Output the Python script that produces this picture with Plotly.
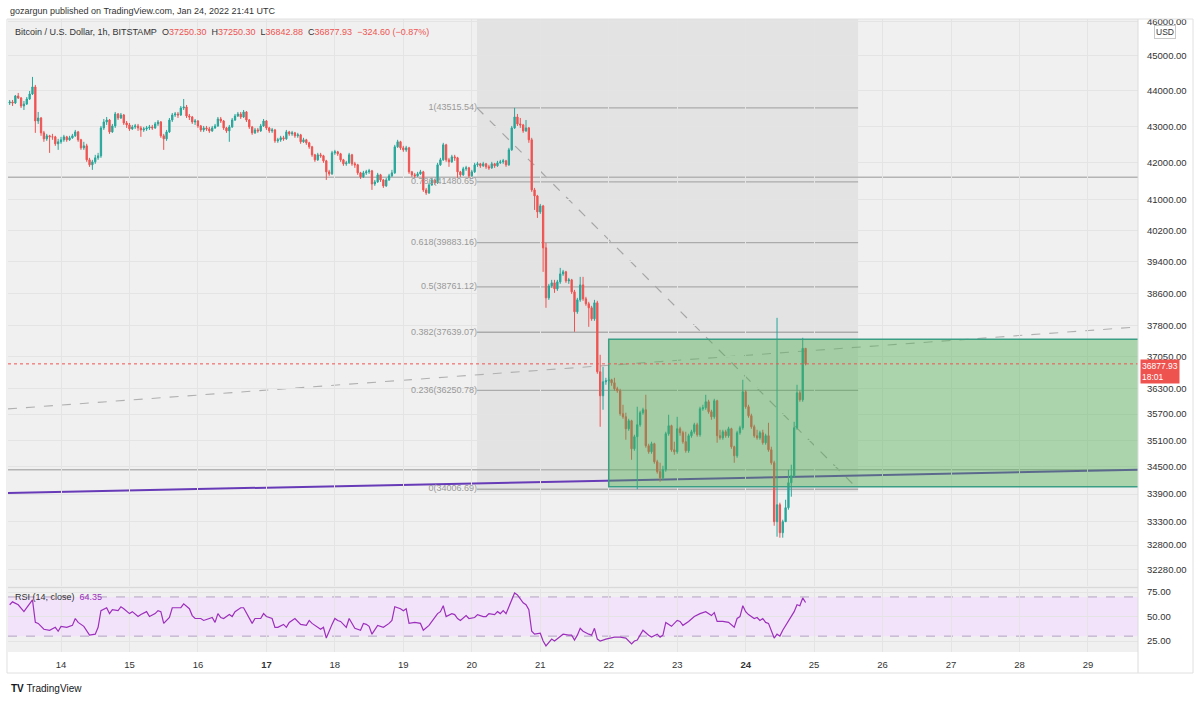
import numpy as np
import pandas as pd
import plotly.graph_objects as go

# ---------------- data ----------------
start_time = "2022-01-13 06:00"
first_open = 43653
closes = [43682, 43653, 43852, 43795, 43569, 43625, 43766, 43908, 44108, 43148,
          43232, 42818, 42653, 42736, 42708, 42708, 42516, 42571, 42626, 42708,
          42626, 42681, 42736, 42845, 42626, 42405, 42460, 42077, 41942, 42023,
          42132, 42186, 42955, 43121, 43176, 42845, 43010, 43344, 43232, 43316,
          43093, 43038, 42928, 42983, 43010, 42955, 42900, 42928, 42955, 42983,
          42955, 43066, 43121, 42736, 42653, 42845, 43176, 43316, 43344, 43316,
          43512, 43541, 43288, 43260, 43121, 43148, 43010, 42900, 42955, 42928,
          42873, 42955, 43010, 43204, 43148, 42955, 42873, 42983, 43176, 43288,
          43344, 43260, 43400, 43176, 42983, 42818, 42900, 42873, 43010, 43148,
          42955, 42873, 42900, 42598, 42626, 42681, 42653, 42845, 42790, 42818,
          42736, 42763, 42571, 42626, 42543, 42433, 42214, 42077, 42214, 42186,
          42050, 41752, 41698, 42268, 42296, 42241, 42077, 41969, 41996, 42214,
          41969, 41942, 41725, 41617, 41725, 41752, 41779, 41428, 41482, 41671,
          41535, 41375, 41535, 41644, 41725, 42433, 42571, 42405, 42350, 42405,
          41752, 41671, 41644, 41698, 41752, 41268, 41188, 41402, 41535, 41455,
          41942, 42077, 42488, 42077, 42023, 42159, 42132, 41752, 41671, 41833,
          41860, 41644, 41752, 41942, 41969, 41915, 41969, 41888, 41860, 41969,
          41915, 41996, 42023, 42050, 41942, 42350, 42955, 43260, 43066, 43038,
          42873, 42955, 42626, 41268, 41108, 40685, 40843, 39750, 38486, 38785,
          38861, 38710, 38886, 39087, 39138, 38911, 38936, 38635, 38140, 38436,
          38810, 38461, 38338, 38239, 37968, 38362, 36690, 36125, 36453, 36477,
          36500, 36430, 36289, 36242, 35708, 35638, 35363, 35546, 34909, 35181,
          35455, 35731, 35800, 34977, 34841, 35022, 34616, 34394, 34260, 34438,
          35249, 35432, 34886, 34841, 35363, 35272, 35068, 34864, 35204, 35294,
          35455, 35227, 35823, 35846, 35986, 35754, 35638, 36009, 35204, 35158,
          35294, 35204, 35363, 34954, 34751, 35272, 35386, 36218, 35870, 35662,
          35409, 35204, 35158, 35272, 35045, 35204, 34886, 34594, 33300, 33668,
          33064, 33300, 33603, 34150, 34305, 35386, 36195, 36032, 37250.30, 36877.93]
highs = [43738, 43738, 43880, 43937, 43823, 43710, 43823, 43994, 44395, 44166,
         43400, 43260, 42873, 42790, 42763, 42790, 42736, 42653, 42708, 42763,
         42736, 42736, 42790, 42900, 42873, 42653, 42571, 42516, 42132, 42077,
         42214, 42268, 43010, 43204, 43260, 43204, 43066, 43400, 43372, 43372,
         43344, 43148, 43093, 43038, 43066, 43066, 43010, 42983, 43010, 43038,
         43038, 43121, 43176, 43148, 42790, 42900, 43232, 43372, 43400, 43400,
         43569, 43766, 43597, 43344, 43288, 43204, 43176, 43038, 43010, 43010,
         42983, 43010, 43066, 43260, 43260, 43176, 42983, 43038, 43232, 43344,
         43400, 43400, 43456, 43428, 43204, 43010, 42955, 42955, 43066, 43204,
         43176, 42983, 42955, 42928, 42681, 42736, 42736, 42900, 42873, 42873,
         42845, 42818, 42790, 42681, 42653, 42571, 42460, 42241, 42268, 42268,
         42214, 42077, 41806, 42323, 42350, 42323, 42268, 42104, 42050, 42268,
         42241, 42023, 41969, 41752, 41779, 41806, 41833, 41806, 41535, 41725,
         41698, 41562, 41590, 41698, 41806, 42488, 42626, 42598, 42460, 42460,
         42433, 41779, 41725, 41752, 41806, 41779, 41321, 41455, 41590, 41562,
         41996, 42132, 42543, 42516, 42132, 42214, 42214, 42159, 41779, 41888,
         41915, 41888, 41806, 41996, 42023, 41996, 42023, 41996, 41942, 42023,
         41996, 42050, 42077, 42104, 42077, 42405, 43010, 43515.54, 43344, 43232,
         43066, 43176, 42983, 42681, 41321, 41135, 40896, 40869, 39878, 38835,
         38936, 38936, 38936, 39239, 39188, 39163, 38986, 38961, 38685, 38486,
         39012, 39012, 38511, 38387, 38288, 38436, 38412, 37095, 36808, 36547,
         36571, 36524, 36547, 36336, 36289, 35916, 35731, 35592, 35569, 35227,
         35870, 35777, 35846, 36149, 35022, 35068, 35045, 34660, 34594, 34527,
         35294, 35685, 35455, 35068, 35638, 35409, 35317, 35294, 35249, 35340,
         35500, 35500, 35870, 35916, 36149, 36032, 35800, 36055, 36032, 35340,
         35340, 35340, 35409, 35386, 34977, 35317, 35432, 36500, 36265, 35916,
         35708, 35455, 35340, 35317, 35340, 35249, 35500, 34954, 34639, 37992,
         33712, 33343, 33777, 34438, 34550, 35523, 36383, 36242, 37505, 37250.30]
lows = [43597, 43569, 43625, 43766, 43512, 43456, 43597, 43738, 43880, 42818,
        43066, 42736, 42571, 42598, 42268, 42626, 42460, 42350, 42516, 42571,
        42571, 42598, 42653, 42708, 42571, 42350, 42350, 42023, 41887, 41806,
        41969, 42077, 42132, 42900, 43038, 42790, 42818, 42955, 43176, 43204,
        43038, 42955, 42873, 42900, 42928, 42873, 42708, 42845, 42873, 42900,
        42900, 42928, 43010, 42681, 42350, 42598, 42818, 43121, 43260, 43232,
        43288, 43456, 43232, 43176, 43066, 43038, 42955, 42845, 42845, 42873,
        42818, 42845, 42928, 42983, 43093, 42900, 42818, 42571, 42955, 43148,
        43260, 43204, 43232, 43121, 42928, 42763, 42790, 42818, 42845, 42983,
        42900, 42818, 42818, 42543, 42543, 42571, 42598, 42626, 42736, 42736,
        42681, 42681, 42516, 42543, 42488, 42378, 42159, 42023, 42050, 42132,
        41996, 41535, 41644, 41671, 42214, 42186, 42023, 41915, 41915, 41969,
        41915, 41860, 41671, 41562, 41590, 41671, 41698, 41268, 41375, 41455,
        41482, 41321, 41348, 41508, 41617, 41698, 42405, 42350, 42296, 42296,
        41698, 41617, 41590, 41617, 41671, 41215, 41135, 41161, 41375, 41402,
        41428, 41915, 42050, 42023, 41888, 41996, 42050, 41590, 41617, 41644,
        41779, 41590, 41617, 41725, 41888, 41860, 41888, 41833, 41806, 41833,
        41860, 41888, 41969, 41969, 41888, 41915, 42323, 42928, 43010, 42955,
        42818, 42845, 42543, 41215, 40737, 40527, 40632, 39138, 38239, 38436,
        38735, 38610, 38660, 38836, 39037, 38861, 38836, 38585, 37650, 38091,
        38387, 38412, 38288, 37772, 37919, 37919, 36642, 35409, 35800, 36383,
        36406, 36359, 36242, 36195, 35662, 35592, 35113, 35317, 34661, 34864,
        34006.69, 35409, 35685, 34932, 34796, 34796, 34572, 34350, 34172, 34216,
        34394, 35204, 34841, 34773, 34796, 35204, 35022, 34819, 34819, 35158,
        35249, 35181, 35181, 35777, 35800, 35708, 35569, 35592, 35045, 35113,
        35113, 35158, 35158, 34909, 34594, 34706, 35227, 35340, 35823, 35615,
        35363, 35158, 35113, 35113, 35000, 35000, 34841, 34550, 33214, 32979,
        32958, 32958, 33300, 33560, 33843, 34260, 35340, 35986, 35986, 36842.88]

rsi_points = [(0, 62), (1, 65), (3, 62), (5, 55), (6, 59), (8, 67), (9, 44), (10, 43), (12, 37), (14, 36),
              (16, 39), (17, 35), (18, 40), (20, 39), (22, 41), (23, 48), (24, 44), (26, 40), (28, 31), (30, 32),
              (31, 39), (32, 56), (34, 59), (35, 53), (36, 57), (38, 56), (39, 60), (40, 58), (42, 53), (43, 55),
              (45, 50), (46, 52), (48, 55), (49, 50), (51, 53), (52, 56), (53, 55), (54, 43), (56, 49), (57, 59),
              (59, 59), (60, 59), (61, 63), (63, 58), (64, 51), (65, 48), (67, 48), (68, 46), (69, 47), (71, 49),
              (72, 44), (73, 53), (74, 49), (75, 48), (77, 52), (78, 50), (79, 55), (81, 59), (82, 59), (84, 49),
              (85, 43), (86, 48), (88, 48), (89, 53), (90, 50), (92, 48), (93, 39), (94, 39), (96, 42), (97, 39),
              (98, 44), (100, 48), (101, 45), (102, 42), (104, 41), (105, 46), (106, 43), (108, 39), (109, 37), (110, 39),
              (111, 28), (113, 42), (114, 48), (115, 46), (116, 45), (118, 39), (119, 48), (121, 38), (123, 36), (124, 43),
              (125, 42), (126, 40), (127, 32), (129, 41), (131, 39), (133, 43), (134, 46), (135, 60), (137, 58), (138, 56),
              (139, 58), (140, 43), (142, 44), (144, 43), (145, 36), (147, 41), (148, 45), (150, 53), (151, 55), (152, 61),
              (153, 50), (155, 53), (156, 52), (157, 48), (158, 46), (160, 51), (161, 48), (163, 49), (164, 52), (166, 50),
              (167, 50), (168, 53), (170, 52), (171, 55), (172, 53), (173, 56), (174, 53), (176, 67), (177, 74), (178, 72),
              (180, 64), (181, 62), (182, 57), (183, 35), (184, 32), (186, 33), (187, 25), (188, 20), (190, 27), (191, 25),
              (194, 32), (196, 31), (197, 31), (198, 26), (199, 31), (200, 38), (201, 35), (203, 32), (204, 31), (205, 38),
              (206, 27), (207, 25), (209, 27), (212, 29), (214, 29), (216, 28), (218, 22), (219, 25), (220, 26), (221, 31),
              (222, 36), (224, 31), (225, 29), (227, 32), (228, 29), (229, 31), (230, 44), (232, 40), (234, 46), (235, 45),
              (236, 41), (238, 45), (239, 48), (240, 50), (242, 53), (244, 55), (246, 51), (247, 54), (248, 45), (250, 45),
              (252, 44), (254, 39), (255, 48), (256, 50), (257, 61), (258, 55), (259, 52), (260, 50), (261, 48), (262, 49),
              (263, 46), (264, 48), (265, 44), (266, 43), (268, 28), (269, 32), (270, 30), (271, 36), (273, 45), (275, 55),
              (276, 62), (277, 61), (278, 69), (279, 64.35)]

fib_labels = ["1", "0.786", "0.618", "0.5", "0.382", "0.236", "0"]
fib_prices = [43515.54, 41480.65, 39883.16, 38761.12, 37639.07, 36250.78, 34006.69]
fib_start, fib_end = "2022-01-20 01:50", "2022-01-25 15:25"

price_ticks = [46000, 45000, 44000, 43000, 42000, 41000, 40200, 39400, 38600, 37800,
               37050, 36300, 35700, 35100, 34500, 33900, 33300, 32800, 32280]
rsi_ticks = [25, 50, 75]
day_ticks = ["2022-01-%02d" % d for d in range(14, 30)]
day_labels = [str(d) for d in range(14, 30)]
bold_days = ["17", "24"]

x_left, x_right = "2022-01-13 05:25", "2022-01-29 17:32"
hline_prices = [41606, 34438]
trend_purple = [33925, 34438]
trend_dashed = [35820, 37770]
box_x0 = "2022-01-22 00:00"
box_prices = [34063, 37471]
fib_bg_bottom = 33950
last_price = 36877.93
legend_ohlc = ["37250.30", "37250.30", "36842.88", "36877.93"]
legend_change = "−324.60 (−0.87%)"
rsi_last = "64.35"

# ---------------- figure ----------------
times = pd.date_range(start_time, periods=len(closes), freq="h")
opens = [first_open] + closes[:-1]
rsi_hours = [p[0] for p in rsi_points]
rsi_values = [p[1] for p in rsi_points]
rsi_times = [times[h] for h in rsi_hours]

UP, DOWN = "#26a69a", "#ef5350"
RSI_C = "#9c2fbb"
FONT = "Liberation Sans, Arial, sans-serif"
TXT = "#333333"

fig = go.Figure()
fig.add_trace(go.Candlestick(
    x=times, open=opens, high=highs, low=lows, close=closes,
    increasing=dict(line=dict(color=UP, width=1), fillcolor=UP),
    decreasing=dict(line=dict(color=DOWN, width=1), fillcolor=DOWN),
    whiskerwidth=0, xaxis="x", yaxis="y", hoverinfo="skip", showlegend=False))

fig.add_trace(go.Scatter(
    x=[fib_start] * len(fib_prices), y=fib_prices,
    text=["%s(%.2f)" % (l, p) for l, p in zip(fib_labels, fib_prices)],
    mode="text", textposition="middle left",
    textfont=dict(family=FONT, size=9, color="#999999"),
    xaxis="x", yaxis="y", hoverinfo="skip", showlegend=False))

fig.add_trace(go.Scatter(
    x=rsi_times, y=rsi_values, mode="lines",
    line=dict(color=RSI_C, width=1.2),
    xaxis="x", yaxis="y2", hoverinfo="skip", showlegend=False))

shapes = []
# fib background zone
shapes.append(dict(type="rect", xref="x", yref="y", x0=fib_start, x1=fib_end,
                   y0=fib_bg_bottom, y1=60000, fillcolor="#e3e3e3", line_width=0, layer="below"))
# fib level lines
for p in fib_prices:
    shapes.append(dict(type="line", xref="x", yref="y", x0=fib_start, x1=fib_end, y0=p, y1=p,
                       line=dict(color="#ababab", width=1.3), layer="below"))
# fib diagonal
shapes.append(dict(type="line", xref="x", yref="y", x0=fib_start, x1=fib_end,
                   y0=fib_prices[0], y1=fib_prices[-1],
                   line=dict(color="#a6a6a6", width=1.2, dash="dash"), layer="below"))
# full-width horizontal lines
for p in hline_prices:
    shapes.append(dict(type="line", xref="x", yref="y", x0=x_left, x1=x_right, y0=p, y1=p,
                       line=dict(color="#b4b4b4", width=1.5), layer="below"))
# dashed trend line
shapes.append(dict(type="line", xref="x", yref="y", x0=x_left, x1=x_right,
                   y0=trend_dashed[0], y1=trend_dashed[1],
                   line=dict(color="#b0b0b0", width=1.1, dash="dash"), layer="below"))
# purple trend line
shapes.append(dict(type="line", xref="x", yref="y", x0=x_left, x1=x_right,
                   y0=trend_purple[0], y1=trend_purple[1],
                   line=dict(color="#673ab7", width=2), layer="below"))
# green box
shapes.append(dict(type="rect", xref="x", yref="y", x0=box_x0, x1="2022-02-02",
                   y0=box_prices[0], y1=box_prices[1],
                   fillcolor="rgba(76,175,80,0.42)", line=dict(color="#3a9e84", width=1.5), layer="above"))
# last price dotted line
shapes.append(dict(type="line", xref="x", yref="y", x0=x_left, x1=x_right, y0=last_price, y1=last_price,
                   line=dict(color=DOWN, width=1, dash="dot"), layer="above"))
# RSI band and levels
shapes.append(dict(type="rect", xref="x", yref="y2", x0=x_left, x1=x_right, y0=30, y1=70,
                   fillcolor="#f2e3fb", line_width=0, layer="below"))
for lv in (70, 30):
    shapes.append(dict(type="line", xref="x", yref="y2", x0=x_left, x1=x_right, y0=lv, y1=lv,
                       line=dict(color="#b2a3bf", width=1, dash="dash"), layer="below"))
# frame / separators (paper)
shapes.append(dict(type="line", xref="paper", yref="paper", x0=0, x1=1, y0=0.1019, y1=0.1019,
                   line=dict(color="#d9d9d9", width=2)))
shapes.append(dict(type="line", xref="paper", yref="paper", x0=1, x1=1, y0=-0.033, y1=1,
                   line=dict(color="#dcdcdc", width=1)))
shapes.append(dict(type="rect", xref="paper", yref="paper", x0=-0.0009, x1=1.0487, y0=-0.0332, y1=1.0,
                   line=dict(color="#e0e0e0", width=1), fillcolor="rgba(0,0,0,0)"))

red = "<span style='color:#ef5350'>%s</span>"
legend_text = ("Bitcoin / U.S. Dollar, 1h, BITSTAMP\u00a0\u00a0O" + red % legend_ohlc[0] +
               "\u00a0\u00a0H" + red % legend_ohlc[1] + "\u00a0\u00a0L" + red % legend_ohlc[2] +
               "\u00a0\u00a0C" + red % legend_ohlc[3] + "\u00a0\u00a0" + red % legend_change)

annotations = [
    dict(xref="paper", yref="paper", x=0, y=1.0126, xanchor="left", yanchor="middle",
         text="gozargun published on TradingView.com, Jan 24, 2022 21:41 UTC",
         showarrow=False, font=dict(family=FONT, size=9, color=TXT)),
    dict(xref="paper", yref="paper", x=0.0044, y=0.9795, xanchor="left", yanchor="middle",
         text=legend_text, showarrow=False, font=dict(family=FONT, size=9, color=TXT)),
    dict(xref="paper", yref="paper", x=0.0044, y=0.0869, xanchor="left", yanchor="middle",
         text="RSI (14, close)\u00a0\u00a0<span style='color:%s'>%s</span>" % (RSI_C, rsi_last),
         showarrow=False, font=dict(family=FONT, size=9, color=TXT)),
    dict(xref="paper", yref="paper", x=1.0239, y=0.9795, xanchor="center", yanchor="middle",
         text="USD", showarrow=False, bgcolor="white", bordercolor="#c9c9c9", borderwidth=1,
         borderpad=1, font=dict(family=FONT, size=8.5, color=TXT)),
    dict(xref="paper", yref="y", x=1, y=np.log10(last_price), xanchor="left", yanchor="middle",
         xshift=2, yshift=-8, text="%.2f<br>18:01" % last_price, align="left", showarrow=False,
         bgcolor=DOWN, borderpad=1, font=dict(family=FONT, size=8.5, color="white")),
    dict(xref="paper", yref="paper", x=0.0005, y=-0.0569, xanchor="left", yanchor="middle",
         text="<b>TV</b> TradingView", showarrow=False, font=dict(family=FONT, size=10, color="#131722")),
]

fig.update_layout(
    width=1200, height=702,
    margin=dict(l=8, r=62, t=19, b=50),
    paper_bgcolor="white", plot_bgcolor="#f0f0f0",
    showlegend=False, boxgap=0.35,
    font=dict(family=FONT, size=9, color=TXT),
    shapes=shapes, annotations=annotations,
    xaxis=dict(type="date", range=[x_left, x_right], anchor="y2",
               tickvals=day_ticks,
               ticktext=["<b>%s</b>" % t if t in bold_days else t for t in day_labels],
               showgrid=True, gridcolor="#e4e4e4", zeroline=False, showline=False, ticks="",
               ticklabelstandoff=5,
               rangeslider=dict(visible=False), tickfont=dict(family=FONT, size=9.5, color=TXT)),
    yaxis=dict(domain=[0.1043, 1], type="log", range=[np.log10(31945), np.log10(46089)],
               side="right", tickvals=price_ticks, ticktext=["%.2f" % v for v in price_ticks],
               showgrid=True, gridcolor="#e4e4e4", zeroline=False, showline=False, ticks="",
               ticklabelstandoff=8, tickfont=dict(family=FONT, size=9.5, color=TXT)),
    yaxis2=dict(domain=[0, 0.0995], range=[13.8, 78.1], side="right", anchor="x",
                tickvals=rsi_ticks, ticktext=["%.2f" % v for v in rsi_ticks],
                showgrid=True, gridcolor="#e4e4e4", zeroline=False, showline=False, ticks="",
                ticklabelstandoff=8, tickfont=dict(family=FONT, size=9.5, color=TXT)),
)

fig.write_html("out.html")
